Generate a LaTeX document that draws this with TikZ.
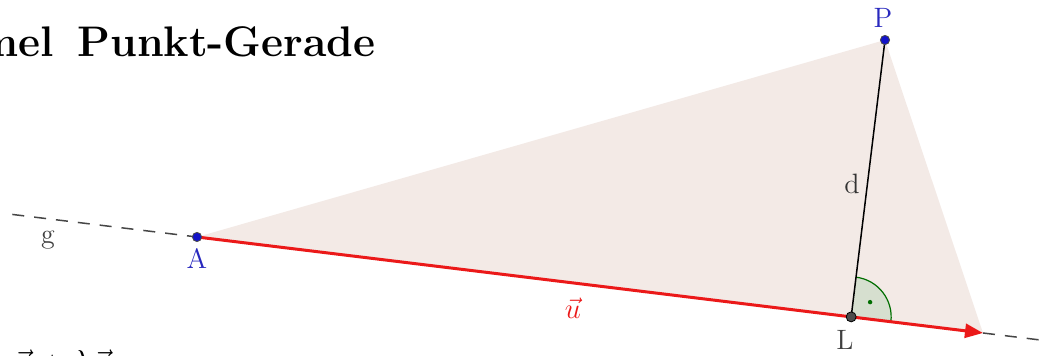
\documentclass[tikz,border=0pt]{standalone}
\usetikzlibrary{calc,arrows.meta}
\definecolor{fillc}{RGB}{243,234,230}
\definecolor{vecred}{RGB}{235,25,25}
\definecolor{ptblue}{RGB}{20,20,200}
\definecolor{lblblue}{RGB}{40,40,190}
\definecolor{anggreen}{RGB}{0,110,0}
\definecolor{anglefill}{RGB}{205,220,200}
\definecolor{dashgray}{RGB}{70,70,70}
\tikzset{
  lbl/.style={font=\fontsize{14}{16}\selectfont, inner sep=0pt},
  ptlbl/.style={lbl, text=lblblue},
  bluept/.style={circle, fill=ptblue, draw=black!70, line width=0.4pt, inner sep=0pt, minimum size=4.6pt},
  graypt/.style={circle, fill=black!70, draw=black, line width=0.4pt, inner sep=0pt, minimum size=5pt},
  gline/.style={dashgray, line width=0.75pt, dash pattern=on 6pt off 5pt},
  uvec/.style={vecred, line width=1.5pt, -{Triangle[length=9pt,width=7pt]}},
}
\begin{document}
\begin{tikzpicture}[x=0.5pt,y=-0.5pt]
\useasboundingbox (0,0) rectangle (1057,356);
\coordinate (A) at (197,237);
\coordinate (P) at (885,40);
\coordinate (T) at (983,333);
\coordinate (L) at ($(A)!(P)!(T)$);
\coordinate (G1) at ($(A)!-0.235!(T)$);
\coordinate (G2) at ($(A)!1.079!(T)$);
% triangle fill
\fill[fillc] (A) -- (P) -- (T) -- cycle;
% line g
\draw[gline] (G1) -- (A);
\draw[gline] (T) -- (G2);
% right angle mark
\fill[anglefill, opacity=0.75] (L) -- ++(-7.14:20pt) arc[start angle=-7.14, end angle=82.86, radius=20pt] -- cycle;
\draw[anggreen, line width=0.6pt] ($(L)+(-7.14:20pt)$) arc[start angle=-7.14, end angle=82.86, radius=20pt];
\fill[anggreen] ($(L)+(37.9:12pt)$) circle (1.1pt);
% segment d
\draw[black, line width=0.75pt] (P) -- (L);
% vector u
\draw[uvec] (A) -- (T);
% points
\node[bluept] (pA) at (A) {};
\node[bluept] (pP) at (P) {};
\node[graypt] (pL) at (L) {};
% labels
\node[ptlbl] (lA) at (197,259) {A};
\node[ptlbl] (lP) at (883,18) {P};
\node[lbl, text=black!75] (lL) at (845,340) {L};
\node[lbl, text=black!75] (lg) at (48,240) {g};
\node[lbl, text=black!80] (ld) at (852,184) {d};
\node[lbl, text=vecred] (lu) at (573,308) {$\vec{u}$};
% title (cropped at left)
\node[anchor=base east, inner sep=0pt, font=\fontsize{21.4}{25}\selectfont\bfseries] (title) at (376,57) {Formel\hspace{0.55em}Punkt-Gerade};
% formula (cropped at bottom)
\node[anchor=base west, inner sep=0pt, font=\fontsize{16}{19}\selectfont] (formula) at (14,375) {$\vec{a} + \lambda\vec{u}$};
\end{tikzpicture}
\end{document}
